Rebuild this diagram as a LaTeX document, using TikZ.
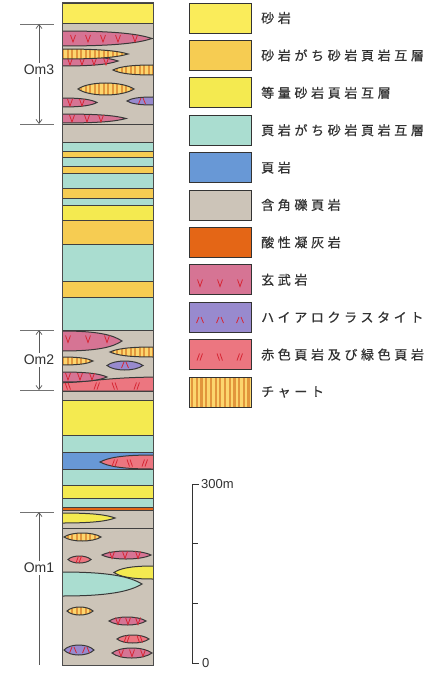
\documentclass[tikz,border=0pt]{standalone}
\usepackage{fontspec}
\setsansfont{Liberation Sans}
\newfontfamily\jpfont[LetterSpace=28, FakeBold=0.6]{Noto Sans CJK JP}
\usetikzlibrary{arrows.meta}

\definecolor{sandY}{RGB}{250,236,90}
\definecolor{sandOr}{RGB}{246,204,82}
\definecolor{eqY}{RGB}{244,234,80}
\definecolor{shaleCy}{RGB}{170,221,208}
\definecolor{shaleBl}{RGB}{104,152,214}
\definecolor{brecGr}{RGB}{204,196,184}
\definecolor{tuffOr}{RGB}{228,102,22}
\definecolor{basPk}{RGB}{214,116,148}
\definecolor{hyaLv}{RGB}{152,138,206}
\definecolor{redSh}{RGB}{236,118,128}
\definecolor{chertY}{RGB}{252,214,110}
\definecolor{chertSt}{RGB}{226,150,60}
\definecolor{markRed}{RGB}{214,38,52}
\definecolor{textGr}{RGB}{50,50,50}

\tikzset{
	band/.style={draw=black!75, line width=0.6pt},
	linse/.style={draw=black!78, line width=1pt},
	zeichen/.style={draw=markRed, line width=0.8pt},
	legbox/.style={draw=black!80, line width=0.9pt},
	legtxt/.style={anchor=west, inner sep=0pt, text=textGr, font=\jpfont\fontsize{13}{13}\selectfont},
	omtxt/.style={inner sep=2pt, text=textGr, font=\sffamily\fontsize{14}{14}\selectfont},
	skaltxt/.style={anchor=west, inner sep=0pt, text=textGr, font=\sffamily\fontsize{13}{13}\selectfont},
	pfeil/.style={draw=black!65, line width=0.7pt, -{Straight Barb[length=4pt, width=6pt]}},
	marke/.style={draw=black!55, line width=0.8pt},
}

% freie Linse: x links, x rechts, y oben, y unten
\newcommand{\lensP}[4]{(#1,{(#3+#4)/2}) .. controls ({#1+0.2*(#2-#1)},{#3-(#4-#3)/6}) and ({#2-0.22*(#2-#1)},{#3-(#4-#3)/6}) .. (#2,{(#3+#4)/2}) .. controls ({#2-0.22*(#2-#1)},{#4+(#4-#3)/6}) and ({#1+0.2*(#2-#1)},{#4+(#4-#3)/6}) .. cycle}
% Linse am linken Rand: Spitze rechts, y oben, y unten
\newcommand{\lensL}[3]{(50,#2) -- (62,#2) .. controls ({62+0.6*(#1-62)},#2) and ({#1-0.15*(#1-62)},{#2+0.2*(#3-#2)}) .. (#1,{(#2+#3)/2}) .. controls ({#1-0.15*(#1-62)},{#3-0.2*(#3-#2)}) and ({62+0.6*(#1-62)},#3) .. (62,#3) -- (50,#3) -- cycle}
% Linse am rechten Rand: Spitze links, y oben, y unten
\newcommand{\lensR}[3]{(165,#2) -- (153,#2) .. controls ({153-0.6*(153-#1)},#2) and ({#1+0.15*(153-#1)},{#2+0.2*(#3-#2)}) .. (#1,{(#2+#3)/2}) .. controls ({#1+0.15*(153-#1)},{#3-0.2*(#3-#2)}) and ({153-0.6*(153-#1)},#3) .. (153,#3) -- (165,#3) -- cycle}
\newcommand{\Linse}[2]{\filldraw[linse, fill=#1] #2;}
\newcommand{\ChertLinse}[3]{%
	\begin{scope}
		\clip #1;
		\fill[chertY] (0,#2-3) rectangle (200,#3+3);
		\foreach \sx in {62,66.5,...,155}
			\fill[chertSt] (\sx,#2-3) rectangle (\sx+2,#3+3);
	\end{scope}
	\draw[linse] #1;}

% Zeichen
\newcommand{\Vz}[2]{\draw[zeichen] (#1-2.5,#2-3.5) -- (#1,#2+3.5) -- (#1+2.5,#2-3.5);}
\newcommand{\Hz}[2]{\draw[zeichen] (#1-3.5,#2+3) -- (#1-1,#2-3) (#1+1,#2-3) -- (#1+3.5,#2+3);}
\newcommand{\Sz}[2]{\draw[zeichen] (#1-3,#2+3.5) -- (#1-0.5,#2-3.5) (#1,#2+3.5) -- (#1+2.5,#2-3.5);}
\newcommand{\Bz}[2]{\draw[zeichen] (#1-3,#2-3.5) -- (#1-0.5,#2+3.5) (#1,#2-3.5) -- (#1+2.5,#2+3.5);}

\begin{document}
\begin{tikzpicture}[x=1pt, y=-1pt]
	\useasboundingbox (0,0) rectangle (447,674);
	\fill[white] (0,0) rectangle (447,674);

	%Saeule
	\begin{scope}
		\clip (62,3) rectangle (153,665);
		\foreach \yo/\yu/\fc in {3/23/sandY, 23/124/brecGr, 124/142/brecGr,
			142/151/shaleCy, 151/157/sandOr, 157/166/shaleCy, 166/173/sandOr,
			173/188/shaleCy, 188/198/sandOr, 198/205/shaleCy, 205/220/eqY,
			220/244/sandOr, 244/281/shaleCy, 281/297/sandOr, 297/330/shaleCy,
			330/391/brecGr, 391/400/brecGr, 400/435/eqY, 435/452/shaleCy,
			452/469/shaleBl, 469/485/shaleCy, 485/498/eqY, 498/507/shaleCy,
			507/510/tuffOr, 510/528/brecGr, 528/665/brecGr}
			\filldraw[band, fill=\fc] (50,\yo) rectangle (165,\yu);

		%Om3
		\Linse{basPk}{\lensL{152}{31}{46}}
		\foreach \vx in {73,88,103,118,135} {\Vz{\vx}{38.5}}
		\Linse{basPk}{\lensL{118}{56}{66}}
		\foreach \vx in {70,82,94,106} {\Vz{\vx}{61.5}}
		\ChertLinse{\lensL{128}{49}{59}}{49}{59}
		\ChertLinse{\lensR{113}{65}{75}}{65}{75}
		\ChertLinse{\lensP{78}{134}{83}{95}}{83}{95}
		\Linse{basPk}{\lensL{97}{98}{107}}
		\foreach \vx in {70,82} {\Vz{\vx}{102.5}}
		\Linse{hyaLv}{\lensR{127}{97}{105}}
		\Hz{142}{101}
		\Linse{basPk}{\lensL{126}{114}{123}}
		\foreach \vx in {72,87,101} {\Vz{\vx}{118.5}}

		%Om2
		\Linse{basPk}{\lensL{122}{331}{351}}
		\foreach \vx in {68,88,107} {\Vz{\vx}{339}}
		\ChertLinse{\lensR{110}{347}{357}}{347}{357}
		\ChertLinse{\lensL{93}{357}{365}}{357}{365}
		\Linse{hyaLv}{\lensP{107}{143}{361}{370}}
		\Hz{125}{365}
		\filldraw[linse, fill=redSh] (50,391) -- (50,383) .. controls (90,383) and (100,377) .. (165,377) -- (165,391) -- cycle;
		\foreach \vx in {97,137} {\Sz{\vx}{386}}
		\foreach \vx in {68,115} {\Bz{\vx}{386}}
		\Linse{basPk}{\lensL{107}{372}{382}}
		\foreach \vx in {68,80,92} {\Vz{\vx}{376.5}}
		\draw[band] (50,391) -- (165,391);

		%Linse im Tonstein
		\Linse{redSh}{\lensR{100}{455}{469}}
		\Sz{115}{463} \Bz{130}{463} \Sz{145}{463}

		%Om1
		\Linse{eqY}{\lensL{115}{513}{523}}
		\ChertLinse{\lensP{64}{101}{533}{541}}{533}{541}
		\Linse{basPk}{\lensP{102}{151}{551}{559}}
		\foreach \vx in {112,125,138} {\Vz{\vx}{555}}
		\Linse{redSh}{\lensP{68}{91}{556}{563}}
		\Sz{79}{559.5}
		\Linse{eqY}{\lensR{114}{566}{579}}
		\Linse{shaleCy}{\lensL{142}{572}{596}}
		\ChertLinse{\lensP{67}{93}{607}{615}}{607}{615}
		\Linse{basPk}{\lensP{109}{146}{617}{625}}
		\foreach \vx in {118,128,138} {\Vz{\vx}{621}}
		\Linse{redSh}{\lensP{117}{149}{635}{643}}
		\Sz{127}{639} \Bz{140}{639}
		\Linse{hyaLv}{\lensP{64}{94}{645}{655}}
		\Hz{73}{650} \Hz{86}{650}
		\Linse{basPk}{\lensP{112}{152}{648}{658}}
		\foreach \vx in {121,132,143} {\Vz{\vx}{653}}
	\end{scope}
	\draw[black!70, line width=1pt] (62,3) rectangle (153,665);

	%Formationen
	\foreach \ty in {24,124,330,390,512}
		\draw[marke] (20,\ty) -- (54,\ty);
	\node[omtxt] (om3) at (39,70) {Om3};
	\coordinate (om3o) at (39,24);
	\coordinate (om3u) at (39,124);
	\draw[pfeil] (om3) -- (om3o);
	\draw[pfeil] (om3) -- (om3u);
	\node[omtxt] (om2) at (39,360) {Om2};
	\coordinate (om2o) at (39,330);
	\coordinate (om2u) at (39,390);
	\draw[pfeil] (om2) -- (om2o);
	\draw[pfeil] (om2) -- (om2u);
	\node[omtxt] (om1) at (39,568) {Om1};
	\coordinate (om1o) at (39,512);
	\coordinate (om1u) at (39,665);
	\draw[pfeil] (om1) -- (om1o);
	\draw[draw=black!65, line width=0.7pt] (om1) -- (om1u);

	%Massstab
	\draw[black!80, line width=0.9pt] (199,484) -- (192,484) -- (192,663) -- (199,663);
	\foreach \t in {1,2}
		\draw[black!80, line width=0.9pt] (192,{663-59.67*\t}) -- (198,{663-59.67*\t});
	\node[skaltxt] (s300) at (201,484) {300m};
	\node[skaltxt] (s0) at (202,663) {0};

	%Legende
	\foreach \fc/\txt [count=\i from 0] in {sandY/砂岩, sandOr/砂岩がち砂岩頁岩互層,
		eqY/等量砂岩頁岩互層, shaleCy/頁岩がち砂岩頁岩互層, shaleBl/頁岩,
		brecGr/含角礫頁岩, tuffOr/酸性凝灰岩, basPk/玄武岩,
		hyaLv/ハイアロクラスタイト, redSh/赤色頁岩及び緑色頁岩, chertY/チャート}
	{
		\pgfmathsetmacro\yt{3+37.4*\i}
		\filldraw[legbox, fill=\fc] (189,\yt) rectangle (251,\yt+30);
		\node[legtxt] (leg\i) at (261,\yt+15) {\txt};
	}
	\foreach \vx in {200,220,240} {\Vz{\vx}{283}}
	\foreach \vx in {200,220,240} {\Hz{\vx}{320}}
	\Sz{200}{357} \Bz{220}{357} \Sz{240}{357}
	\begin{scope}
		\clip (189,377) rectangle (251,407);
		\foreach \sx in {191,195.7,...,251}
			\fill[chertSt] (\sx,377) rectangle (\sx+2.2,407);
	\end{scope}
	\draw[legbox] (189,377) rectangle (251,407);
\end{tikzpicture}
\end{document}
